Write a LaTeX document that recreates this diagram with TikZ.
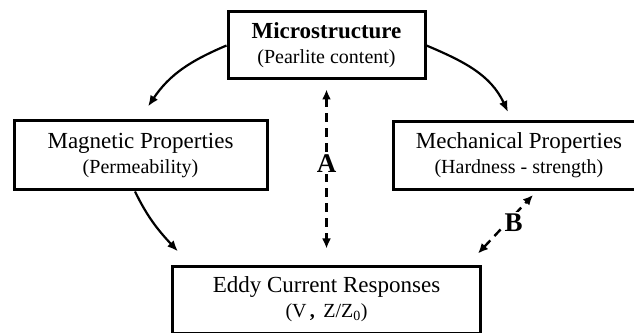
\documentclass[tikz,border=0pt]{standalone}
\usepackage{fontspec}
\setmainfont{Liberation Serif}
\usetikzlibrary{positioning,arrows.meta}
\newcommand{\subline}[1]{{\fontsize{20}{25}\selectfont #1}}

\begin{document}
\begin{tikzpicture}[x=1pt,y=1pt,
boxnode/.style={rectangle, draw=black, line width=3pt, align=center, inner sep=0pt, font=\fontsize{23}{25}\selectfont},
flowarrow/.style={-{Latex[length=11pt,width=9pt]}, line width=2.2pt},
linkarrow/.style={{Latex[length=10pt,width=9pt]}-{Latex[length=10pt,width=9pt]}, line width=2.4pt, dash pattern=on 9pt off 6pt},
letter/.style={fill=white, inner sep=2pt, font=\fontsize{27}{27}\selectfont\bfseries},
]
\useasboundingbox (0,0) rectangle (634,332);

%Nodes
\node[boxnode, minimum width=197pt, minimum height=67pt] (micro) at (326.5,286.5) {\textbf{Microstructure}\\ \subline{(Pearlite content)}};

\node[boxnode, minimum width=253pt, minimum height=69pt] (magnetic) at (140.5,176.5) {Magnetic Properties\\ \subline{(Permeability)}};

\node[boxnode, minimum width=252pt, minimum height=68pt] (mech) [right=123pt of magnetic] {Mechanical Properties\\ \subline{(Hardness - strength)}};

\node[boxnode, minimum width=308pt, minimum height=67pt] (eddy) [below=184pt of micro] {Eddy Current Responses\\ \subline{(V\,\textbf{,}\, Z/Z\textsubscript{0})}};

%Lines
\draw[flowarrow] (micro.west) to[out=203,in=56] ([shift={(7.5,13)}]magnetic.north);
\draw[flowarrow] (micro.east) to[out=-23,in=115] ([shift={(-11,8)}]mech.north);
\draw[flowarrow] ([xshift=-5.5pt]magnetic.south) to[out=-64,in=133] ([shift={(7,13)}]eddy.north west);
\draw[linkarrow, shorten <=9pt, shorten >=16pt] (micro.south) -- (micro.south |- eddy.north) node[letter, pos=0.45] {A};
\draw[linkarrow] ([shift={(-4,11)}]eddy.north east) -- ([shift={(14,-4)}]mech.south) node[letter, pos=0.52, xshift=7pt] {B};

\end{tikzpicture}
\end{document}
